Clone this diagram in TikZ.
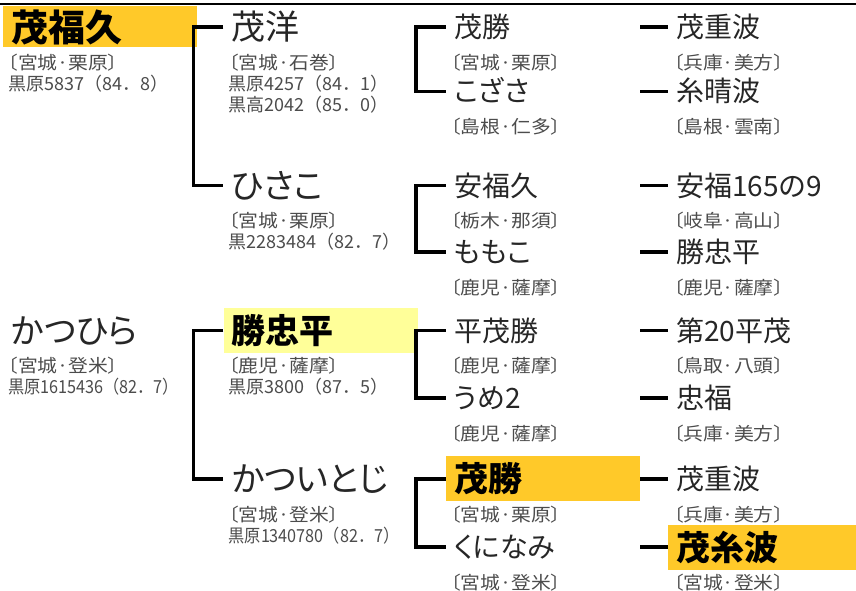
\documentclass[tikz,border=0pt]{standalone}
\usepackage{fontspec}
\setmainfont[RawFeature=+palt]{Noto Sans CJK JP}
\newfontfamily\regfont[RawFeature=+palt,FakeStretch=1.1]{Noto Sans CJK JP}
\newfontfamily\recfont{Noto Sans CJK JP}
\newfontfamily\recnarrow[FakeStretch=0.9]{Noto Sans CJK JP}
\usepackage{tikz}
\usetikzlibrary{positioning}
\definecolor{gold}{HTML}{FFC929}
\definecolor{cream}{HTML}{FFFF99}
\tikzset{
    horse/.style={
           rectangle,
           minimum height=45pt,
           inner xsep=8pt, inner ysep=0pt,
           text width=178pt,
           align=left,
           text=black!85,
           },
    gen1/.style={horse, font=\fontsize{34}{40}\selectfont,
           text height=30pt, text depth=4pt},
    gen2/.style={horse, font=\fontsize{28}{34}\selectfont,
           text height=24.6pt, text depth=3.4pt},
    hilite/.style={fill=#1, text=black,
           font=\bfseries\fontsize{34}{40}\selectfont,
           text height=30pt, text depth=4pt},
    info/.style={
           anchor=north west,
           inner sep=0pt,
           xshift=5pt, yshift=-4pt,
           align=left,
           text=black!70,
           font=\regfont\fontsize{18}{21}\selectfont,
           },
    pil/.style={
           line width=3.5pt,}
}
\newcommand{\rec}[1]{{\recfont #1}}
\newcommand{\recn}[1]{{\recnarrow #1}}

\begin{document}
\begin{tikzpicture}[x=1pt,y=-1pt]
\useasboundingbox (0,0) rectangle (856,591);
% rule along the top
\draw[line width=2pt] (0,4) -- (856,4);
% Position of first animal (MOFUKU)
\node[gen1, hilite=gold, font=\bfseries\fontsize{37}{44}\selectfont,
text height=32.6pt, text depth=4.4pt,
minimum height=41pt, anchor=west] (MOFUKU) at (3,27) {茂福久};
\node[info, yshift=-2pt] (MOFUKUi) at (MOFUKU.south west) {〔宮城·栗原〕\\\rec{黒原5837（84．8）}};
% Position of its parents (SHIGEHIRO, HISAKO)
\node[gen1, right=26pt of MOFUKU] (SHIGEHIRO) {茂洋};
\node[info] (SHIGEHIROi) at (SHIGEHIRO.south west) {〔宮城·石巻〕\\\rec{黒原4257（84．1）}\\\rec{黒高2042（85．0）}};
\node[gen1, below=113pt of SHIGEHIRO] (HISAKO) {ひさこ};
\node[info] (HISAKOi) at (HISAKO.south west) {〔宮城·栗原〕\\\rec{黒2283484（82．7）}};
% Position of second animal (KATSUHIRA)
\node[gen1, below=260pt of MOFUKU] (KATSUHIRA) {かつひら};
\node[info] (KATSUHIRAi) at (KATSUHIRA.south west) {〔宮城·登米〕\\\recn{黒原1615436（82．7）}};
% Position of its parents (KATSUTADA, KATSUITOJI)
\node[gen1, hilite=cream, right=26pt of KATSUHIRA] (KATSUTADA) {勝忠平};
\node[info] (KATSUTADAi) at (KATSUTADA.south west) {〔鹿児·薩摩〕\\\rec{黒原3800（87．5）}};
\node[gen1, below=103pt of KATSUTADA] (KATSUITOJI) {かついとじ};
\node[info] (KATSUITOJIi) at (KATSUITOJI.south west) {〔宮城·登米〕\\\recn{黒原1340780（82．7）}};
% Position of grandparents
\node[gen2, right=28pt of SHIGEHIRO] (SHIGEKATSU) {茂勝};
\node[info] (SHIGEKATSUi) at (SHIGEKATSU.south west) {〔宮城·栗原〕};
\node[gen2, below=19pt of SHIGEKATSU] (KOZASA) {こざさ};
\node[info] (KOZASAi) at (KOZASA.south west) {〔島根·仁多〕};
\node[gen2, right=28pt of HISAKO] (YASUFUKU) {安福久};
\node[info] (YASUFUKUi) at (YASUFUKU.south west) {〔栃木·那須〕};
\node[gen2, below=21pt of YASUFUKU] (MOMOKO) {ももこ};
\node[info] (MOMOKOi) at (MOMOKO.south west) {〔鹿児·薩摩〕};
\node[gen2, right=28pt of KATSUTADA] (HIRASHIGE) {平茂勝};
\node[info] (HIRASHIGEi) at (HIRASHIGE.south west) {〔鹿児·薩摩〕};
\node[gen2, below=22pt of HIRASHIGE] (UME) {うめ2};
\node[info] (UMEi) at (UME.south west) {〔鹿児·薩摩〕};
\node[gen2, hilite=gold, right=28pt of KATSUITOJI] (SHIGEKATSU2) {茂勝};
\node[info] (SHIGEKATSU2i) at (SHIGEKATSU2.south west) {〔宮城·栗原〕};
\node[gen2, below=23pt of SHIGEKATSU2] (KUNINAMI) {くになみ};
\node[info] (KUNINAMIi) at (KUNINAMI.south west) {〔宮城·登米〕};
% Position of great-grandsires
\node[gen2, right=28pt of SHIGEKATSU] (SHIGESHIGE) {茂重波};
\node[info] (SHIGESHIGEi) at (SHIGESHIGE.south west) {〔兵庫·美方〕};
\node[gen2, right=28pt of KOZASA] (ITOHARE) {糸晴波};
\node[info] (ITOHAREi) at (ITOHARE.south west) {〔島根·雲南〕};
\node[gen2, right=28pt of YASUFUKU] (YASU165) {安福165の9};
\node[info] (YASU165i) at (YASU165.south west) {〔岐阜·高山〕};
\node[gen2, right=28pt of MOMOKO] (KATSUTADA2) {勝忠平};
\node[info] (KATSUTADA2i) at (KATSUTADA2.south west) {〔鹿児·薩摩〕};
\node[gen2, right=28pt of HIRASHIGE] (DAI20) {第20平茂};
\node[info] (DAI20i) at (DAI20.south west) {〔鳥取·八頭〕};
\node[gen2, right=28pt of UME] (TADAFUKU) {忠福};
\node[info] (TADAFUKUi) at (TADAFUKU.south west) {〔兵庫·美方〕};
\node[gen2, right=28pt of SHIGEKATSU2] (SHIGESHIGE2) {茂重波};
\node[info] (SHIGESHIGE2i) at (SHIGESHIGE2.south west) {〔兵庫·美方〕};
\node[gen2, hilite=gold, right=28pt of KUNINAMI] (SHIGEITO) {茂糸波};
\node[info] (SHIGEITOi) at (SHIGEITO.south west) {〔宮城·登米〕};
% Draw brackets on graph
\draw[pil] (SHIGEHIRO.west) -- ++(-30,0) |- (HISAKO.west);
\draw[pil] (KATSUTADA.west) -- ++(-30,0) |- (KATSUITOJI.west);
\draw[pil] (SHIGEKATSU.west) -- ++(-30,0) |- (KOZASA.west);
\draw[pil] (YASUFUKU.west) -- ++(-30,0) |- (MOMOKO.west);
\draw[pil] (HIRASHIGE.west) -- ++(-30,0) |- (UME.west);
\draw[pil] (SHIGEKATSU2.west) -- ++(-30,0) |- (KUNINAMI.west);
% Draw in sire lines
\path (SHIGEKATSU) edge[pil] (SHIGESHIGE);
\path (KOZASA) edge[pil] (ITOHARE);
\path (YASUFUKU) edge[pil] (YASU165);
\path (MOMOKO) edge[pil] (KATSUTADA2);
\path (HIRASHIGE) edge[pil] (DAI20);
\path (UME) edge[pil] (TADAFUKU);
\path (SHIGEKATSU2) edge[pil] (SHIGESHIGE2);
\path (KUNINAMI) edge[pil] (SHIGEITO);
\end{tikzpicture}
\end{document}
